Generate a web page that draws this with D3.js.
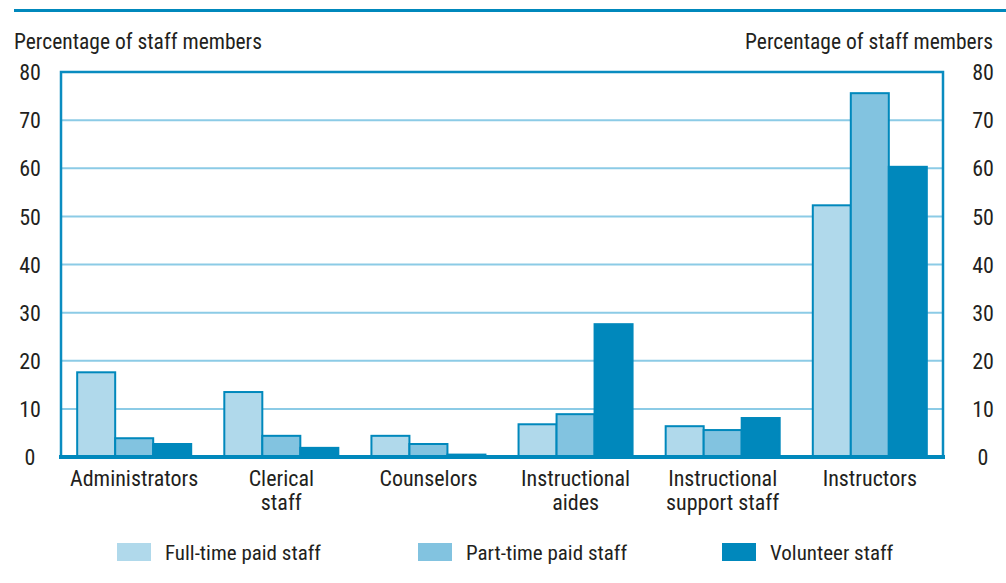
<!DOCTYPE html>
<html><head><meta charset="utf-8">
<script src="https://cdn.jsdelivr.net/npm/d3@7"></script>
<style>
body{margin:0;background:#fff;}
text{font-family:"Liberation Sans Narrow","Roboto Condensed","Liberation Sans",sans-serif;fill:#231f20;}
</style></head>
<body><svg id="c" width="1006" height="583"></svg>
<script>
const categories = [["Administrators"],["Clerical","staff"],["Counselors"],["Instructional","aides"],["Instructional","support staff"],["Instructors"]];
const seriesNames = ["Full-time paid staff","Part-time paid staff","Volunteer staff"];
const fullTime = [17.6, 13.5, 4.4, 6.8, 6.4, 52.3];
const partTime = [3.9, 4.4, 2.7, 8.9, 5.6, 75.6];
const volunteer = [2.7, 1.9, 0.5, 27.6, 8.1, 60.3];
const yTicks = [0,10,20,30,40,50,60,70,80];
const colors = ["#b0d9eb","#82c3e0","#0088bc"];

const svg = d3.select("#c");
const L=61, R=943, T=72, B=457;
const x0 = d3.scaleBand().domain(d3.range(categories.length)).range([L,R]).paddingInner(0.225).paddingOuter(0.11);
const x1 = d3.scaleBand().domain(d3.range(3)).range([0,x0.bandwidth()]);
const y = d3.scaleLinear().domain([0,80]).range([B,T]);
const data = [fullTime, partTime, volunteer];

svg.append("rect").attr("x",14).attr("y",9).attr("width",992).attr("height",3).attr("fill","#0088bc");

svg.append("g").selectAll("line").data(yTicks.filter(d=>d>0&&d<80)).join("line")
  .attr("x1",L).attr("x2",R).attr("y1",d=>y(d)).attr("y2",d=>y(d))
  .attr("stroke","#8ccbe6").attr("stroke-width",2);

const g = svg.append("g");
categories.forEach((c,i)=>{
  data.forEach((s,j)=>{
    g.append("rect")
      .attr("x",x0(i)+x1(j)).attr("y",y(s[i]))
      .attr("width",x1.bandwidth()).attr("height",B-y(s[i]))
      .attr("fill",colors[j]).attr("stroke","#0088bc").attr("stroke-width",2);
  });
});

svg.append("path").attr("d",`M${L},${B}V${T}H${R}V${B}`).attr("fill","none").attr("stroke","#0a8cc0").attr("stroke-width",2.5);
svg.append("line").attr("x1",L-2).attr("x2",R+2).attr("y1",B).attr("y2",B).attr("stroke","#0088bc").attr("stroke-width",4);

const yl = d3.axisLeft(y).tickValues(yTicks).tickSize(0).tickPadding(0);
const yr = d3.axisRight(y).tickValues(yTicks).tickSize(0).tickPadding(0);
const gl = svg.append("g").attr("transform","translate(30,0)").call(yl);
const gr = svg.append("g").attr("transform","translate(983,0)").call(yr);
[gl,gr].forEach(a=>{a.select(".domain").remove();a.attr("font-family",null).attr("font-size",null);a.selectAll("text").attr("text-anchor","middle").attr("font-size",22).attr("dy","0.35em");});

svg.append("text").attr("x",14).attr("y",49).attr("font-size",21.5).text("Percentage of staff members");
svg.append("text").attr("x",993).attr("y",49).attr("font-size",21.5).attr("text-anchor","end").text("Percentage of staff members");

categories.forEach((c,i)=>{
  const cx = x0(i)+x0.bandwidth()/2;
  const t = svg.append("text").attr("x",cx).attr("y",486).attr("text-anchor","middle").attr("font-size",22);
  c.forEach((line,k)=>t.append("tspan").attr("x",cx).attr("dy",k?24:0).text(line));
});

const legX=[117,418,722];
seriesNames.forEach((n,j)=>{
  svg.append("rect").attr("x",legX[j]).attr("y",543).attr("width",34).attr("height",18).attr("fill",colors[j]);
  svg.append("text").attr("x",legX[j]+48).attr("y",560).attr("font-size",21).text(n);
});
</script></body></html>
